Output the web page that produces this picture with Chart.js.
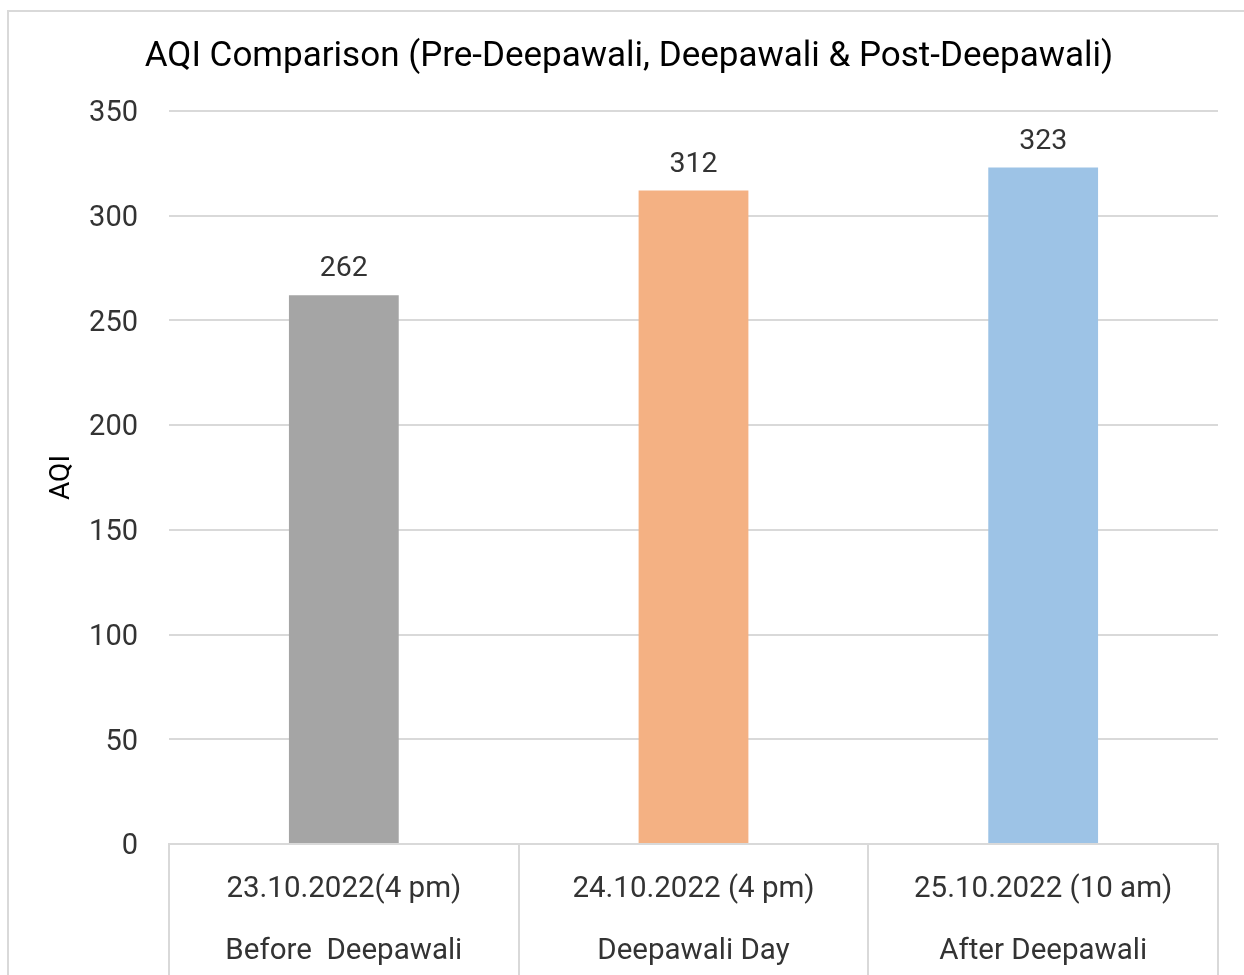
<!DOCTYPE html>
<html>
<head>
<meta charset="utf-8">
<title>AQI Comparison</title>
<script src="https://cdn.jsdelivr.net/npm/chart.js@4.4.6/dist/chart.umd.min.js"></script>
<style>
    html, body { margin: 0; padding: 0; background: #fff; overflow: hidden; }
    #marco {
        position: absolute; left: 0; top: 0; width: 1244px; height: 975px;
    }
    #borde {
        position: absolute; left: 7px; top: 10px; width: 1400px; height: 1100px;
        border: 2px solid #d9d9d9; box-sizing: border-box; pointer-events: none;
    }
    canvas { position: absolute; left: 0; top: 0; }
</style>
</head>
<body>
<div id="marco">
    <canvas id="graficaAqi" width="1244" height="975"></canvas>
    <div id="borde"></div>
</div>
<script>
const fechas = ["23.10.2022(4 pm)", "24.10.2022 (4 pm)", "25.10.2022 (10 am)"];
const periodos = ["Before  Deepawali", "Deepawali Day", "After Deepawali"];
const valoresAqi = [262, 312, 323];
const ticksY = [0, 50, 100, 150, 200, 250, 300, 350];

const coloresBarras = ["#a5a5a5", "#f4b183", "#9dc3e6"];
const fuente = "Roboto, 'Noto Sans', sans-serif";

document.addEventListener('DOMContentLoaded', function () {

    // etiquetas de valor encima de cada barra
    const etiquetasValor = {
        id: 'etiquetasValor',
        afterDatasetsDraw(chart) {
            const ctx = chart.ctx;
            const meta = chart.getDatasetMeta(0);
            ctx.save();
            ctx.font = "28.5px " + fuente;
            ctx.fillStyle = "#333333";
            ctx.textAlign = "center";
            ctx.textBaseline = "middle";
            meta.data.forEach((barra, i) => {
                ctx.fillText(String(valoresAqi[i]), barra.x, barra.y - 26);
            });
            ctx.restore();
        }
    };

    const ctx = document.getElementById('graficaAqi').getContext('2d');
    new Chart(ctx, {
        type: 'bar',
        data: {
            labels: fechas.map((f, i) => [f, periodos[i]]),
            datasets: [{
                label: 'AQI',
                data: valoresAqi,
                backgroundColor: coloresBarras,
                borderWidth: 0,
                barPercentage: 0.314,
                categoryPercentage: 1
            }]
        },
        options: {
            responsive: false,
            animation: false,
            devicePixelRatio: 1,
            layout: {
                padding: { left: 40, right: 26, top: 0, bottom: 0 }
            },
            plugins: {
                legend: { display: false },
                tooltip: { enabled: false },
                title: {
                    display: true,
                    text: 'AQI Comparison (Pre-Deepawali, Deepawali & Post-Deepawali)',
                    color: '#000000',
                    font: { family: fuente, size: 35, weight: 'normal', lineHeight: 1.2 },
                    padding: { top: 36, bottom: 33 }
                }
            },
            scales: {
                x: {
                    offset: true,
                    grid: {
                        offset: true,
                        drawOnChartArea: false,
                        drawTicks: true,
                        tickLength: 131,
                        color: '#d9d9d9',
                        lineWidth: 2
                    },
                    border: { display: true, color: '#d9d9d9', width: 2 },
                    ticks: {
                        color: '#333333',
                        padding: -116,
                        maxRotation: 0,
                        autoSkip: false,
                        font: { family: fuente, size: 29.5, lineHeight: '62px' }
                    },
                    afterFit(scale) {
                        scale.height = 131;
                    }
                },
                y: {
                    min: 0,
                    max: 350,
                    afterBuildTicks(scale) {
                        scale.ticks = ticksY.map(v => ({ value: v }));
                    },
                    grid: {
                        drawTicks: false,
                        color: '#d9d9d9',
                        lineWidth: 2
                    },
                    border: { display: false },
                    ticks: {
                        color: '#333333',
                        padding: 31,
                        labelOffset: 3,
                        font: { family: fuente, size: 29 }
                    },
                    title: {
                        display: true,
                        text: 'AQI',
                        color: '#000000',
                        font: { family: fuente, size: 28, lineHeight: 1.2 },
                        padding: { top: 5, bottom: 0 }
                    },
                    afterFit(scale) {
                        scale.width = 129;
                    }
                }
            }
        },
        plugins: [etiquetasValor]
    });
});
</script>
</body>
</html>
